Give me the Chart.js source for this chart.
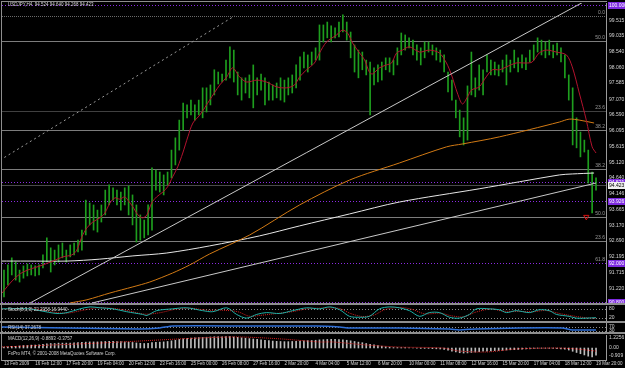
<!DOCTYPE html>
<html>
<head>
<meta charset="utf-8">
<script src="https://cdn.jsdelivr.net/npm/chart.js@4.4.1/dist/chart.umd.min.js"></script>
<style>
  html, body { margin: 0; padding: 0; background: #000; }
  #wrap { position: relative; width: 625px; height: 368px; overflow: hidden; background: #000; }
  #wrap canvas { position: absolute; left: 0; }
  .sep { position: absolute; left: 0; width: 625px; height: 2px; background: #8e8e8e; }
  .edge { position: absolute; background: #8e8e8e; }
</style>
</head>
<body>
<div id="wrap">
  <canvas id="priceChart" width="625" height="303" style="top:0"></canvas>
  <div class="sep" style="top:303px"></div>
  <canvas id="stochChart" width="625" height="16" style="top:305px"></canvas>
  <div class="sep" style="top:321px"></div>
  <canvas id="rsiChart" width="625" height="9" style="top:323px"></canvas>
  <div class="sep" style="top:332px"></div>
  <canvas id="macdChart" width="625" height="34" style="top:334px"></canvas>
  <div class="edge" style="top:1px;left:1px;width:606px;height:1px"></div>
  <div class="edge" style="top:1px;left:1px;width:1px;height:360px"></div>
</div>
<script>
// USDJPY H4 bars, 13 Feb - 19 Mar 2009 (bar index 0..152)
const priceHigh = [
  91.78, 91.94, 92.16, 92.03, 91.78, 91.91, 91.97, 91.94, 91.91, 91.94,
  92.25, 92.78, 92.47, 92.40, 92.56, 92.62, 92.40, 92.56, 92.62, 92.71,
  93.02, 93.95, 93.86, 93.80, 93.64, 93.80, 94.26, 94.42, 94.33, 94.26,
  94.20, 94.33, 94.39, 94.11, 93.80, 93.49, 93.33, 93.80, 94.95, 94.88,
  94.82, 94.73, 94.82, 95.50, 95.88, 96.43, 96.96, 96.90, 97.05, 96.90,
  97.05, 97.43, 97.43, 97.52, 97.99, 97.92, 97.86, 98.29, 98.70, 98.60,
  97.92, 97.74, 97.74, 97.83, 98.14, 97.74, 97.86, 97.74, 97.61, 97.52,
  97.58, 97.74, 97.67, 97.74, 97.83, 98.14, 98.39, 98.54, 98.45, 98.54,
  98.67, 99.38, 99.38, 99.47, 99.35, 99.29, 99.47, 99.69, 99.47, 99.16,
  98.76, 98.60, 98.54, 98.29, 98.23, 98.05, 98.14, 98.23, 98.36, 98.36,
  98.29, 98.67, 99.13, 99.07, 98.98, 98.91, 98.76, 98.67, 98.85, 98.85,
  98.76, 98.67, 98.60, 98.45, 97.92, 97.67, 97.05, 96.74, 96.50, 97.49,
  98.54, 97.74, 98.14, 97.99, 98.45, 98.29, 98.23, 98.14, 98.29, 98.45,
  98.29, 98.60, 98.36, 98.45, 98.36, 98.60, 98.76, 98.98, 98.91, 98.85,
  98.91, 98.76, 98.82, 98.67, 98.45, 97.83, 97.43, 96.50, 96.06, 95.81,
  95.50, 94.82, 94.64
];
const priceLow = [
  90.95, 91.32, 91.63, 91.47, 91.41, 91.53, 91.60, 91.63, 91.60, 91.63,
  91.85, 92.03, 91.72, 91.94, 92.03, 92.16, 92.03, 92.19, 92.25, 92.34,
  92.40, 92.87, 93.18, 93.02, 92.96, 93.27, 93.49, 93.80, 93.95, 93.80,
  93.64, 93.80, 93.49, 93.18, 92.65, 92.71, 92.78, 92.87, 93.02, 94.26,
  94.20, 94.11, 94.42, 94.64, 95.04, 95.50, 96.12, 96.50, 96.59, 96.43,
  96.59, 96.50, 96.68, 96.90, 97.21, 97.55, 97.61, 97.67, 97.74, 97.61,
  97.21, 97.05, 97.27, 97.12, 96.81, 97.21, 97.36, 96.90, 97.05, 97.05,
  97.12, 97.05, 96.99, 97.21, 97.27, 97.43, 97.67, 98.05, 97.92, 98.14,
  98.29, 98.29, 98.85, 98.98, 98.85, 98.98, 99.01, 99.16, 98.91, 98.36,
  97.92, 97.74, 97.99, 97.83, 96.59, 97.52, 97.61, 97.67, 97.99, 97.92,
  97.83, 98.14, 98.45, 98.60, 98.67, 98.45, 98.29, 98.14, 98.36, 98.54,
  98.45, 98.29, 98.23, 97.92, 97.30, 97.05, 96.50, 95.91, 95.66, 95.81,
  97.21, 97.15, 97.36, 97.21, 97.92, 97.83, 97.83, 97.80, 97.92, 97.52,
  97.92, 98.05, 97.92, 98.05, 97.99, 98.23, 98.29, 98.54, 98.45, 98.36,
  98.45, 98.36, 98.45, 98.23, 97.74, 97.05, 95.66, 95.57, 95.29, 95.44,
  94.48, 93.55, 94.26
];

// fast moving average (red)
const fastIdx = [-0.5, 2.3, 4.9, 10, 12.6, 15.1, 17.4, 18.7, 20, 21.3, 22.8, 24.6, 25.9, 27.2, 28.5, 29.7, 31, 31.8, 33.1, 34.4,
  35.6, 36.7, 37.9, 39.2, 40.8, 42, 43.3, 44.6, 45.9, 47.2, 48.5, 50.3, 52.8, 55.4, 57.2, 58.7, 60.5, 62.3, 64.9, 67.4,
  70, 72.6, 74.6, 75.9, 77.7, 79.7, 81, 82.8, 85.4, 86.9, 88.2, 89.5, 91.3, 92.6, 93.8, 94.6, 96.4, 98.2, 99.5, 100.8,
  102.3, 104.1, 106.7, 109.2, 111.8, 113.6, 114.9, 116.4, 117.7, 119, 120, 122, 123.8, 125.4, 127.2, 129, 131.5, 134.1, 135.6, 137.4,
  139.2, 141.8, 144.4, 145.9, 147.7, 149.5, 151, 152];
const fastVal = [91.07, 91.47, 91.72, 91.94, 92.06, 92.19, 92.25, 92.40, 92.81, 93.09, 93.27, 93.40, 93.55, 93.86, 94.02, 93.98, 94.05, 93.95, 93.74, 93.49,
  93.40, 93.49, 93.86, 94.05, 94.20, 94.36, 94.67, 94.98, 95.41, 95.91, 96.34, 96.59, 97.05, 97.52, 97.77, 98.05, 97.77, 97.61, 97.67, 97.61,
  97.46, 97.43, 97.52, 97.77, 97.99, 98.20, 98.51, 98.85, 99.07, 99.22, 99.13, 98.82, 98.51, 98.29, 97.92, 97.86, 98.05, 98.14, 98.20, 98.51,
  98.60, 98.70, 98.54, 98.60, 98.51, 98.20, 97.83, 97.27, 96.93, 97.15, 97.36, 97.46, 97.77, 97.99, 97.99, 98.08, 98.20, 98.20, 98.23, 98.51,
  98.60, 98.54, 98.45, 98.08, 97.27, 96.43, 95.60, 95.41];

// slow moving average (orange)
const slowIdx = [16.9, 21.3, 27.2, 33.1, 37.4, 43.3, 47.7, 52.8, 63.1, 75.9, 88.7, 101.5, 113.6, 117.7, 127.2, 142.6, 145.1, 147.7, 151.5];
const slowVal = [90.76, 90.86, 91.07, 91.26, 91.41, 91.69, 91.94, 92.28, 92.87, 93.80, 94.57, 95.10, 95.60, 95.69, 95.91, 96.37, 96.46, 96.43, 96.34];

// long moving average (white)
const longIdx = [-1, 5.9, 16.2, 24.6, 33.1, 41.8, 52.8, 65.6, 75.9, 88.7, 101.5, 122, 142.6, 145.9, 151.5];
const longVal = [92.06, 92.06, 92.06, 92.12, 92.22, 92.31, 92.53, 92.84, 93.15, 93.52, 93.89, 94.30, 94.73, 94.76, 94.79];

// trend lines (start/end bar, start/end price)
const trendUpperIdx = [6.7, 149.2];
const trendUpperVal = [90.76, 100.12];
const trendLowerIdx = [22.6, 152];
const trendLowerVal = [90.76, 94.48];
const channelIdx = [-1, 59.2];
const channelVal = [95.19, 99.66];

const fibValues = [99.66, 98.88, 96.71, 96.12, 94.91, 93.43, 92.68, 92.00];
const fibNames = ['0.0', '50.0', '23.6', '38.2', '38.2', '50.0', '23.6', '61.8'];
const alertLevels = [100.000, 94.521, 93.926, 92.000, 90.800];
const lastPrice = 94.423;
const arrowIdx = [149.5];
const arrowVal = [93.43];

const priceTicks = [99.515, 99.035, 98.540, 98.060, 97.585, 97.070, 96.590, 96.095, 95.615, 95.120,
  94.640, 94.146, 93.665, 93.170, 92.690, 92.195, 91.715, 91.220];

const timeLabels = ['13 Feb 2009', '16 Feb 12:00', '17 Feb 20:00', '19 Feb 04:00', '20 Feb 12:00', '23 Feb 16:00',
  '25 Feb 00:00', '26 Feb 08:00', '27 Feb 16:00', '2 Mar 20:00', '4 Mar 04:00', '5 Mar 12:00', '6 Mar 20:00',
  '10 Mar 00:00', '11 Mar 08:00', '12 Mar 16:00', '15 Mar 20:00', '17 Mar 04:00', '18 Mar 12:00', '19 Mar 20:00'];

// Stochastic(8,3,3)
const stochIdx = [-1, 6.7, 9.2, 13.6, 16.2, 19.5, 22.1, 24.6, 28, 31.5, 35.6, 36.7, 39.2, 43.3, 46.9, 51, 53.6, 57.2, 59.7, 62.3,
  64.9, 67.4, 70.8, 74.1, 77.7, 81, 83.6, 86.2, 88.7, 91.3, 93.8, 96.4, 99, 101.5, 104.1, 106.7, 109.2, 111.8, 114.4, 116.9,
  119.5, 121.3, 124.6, 127.2, 129, 131.5, 134.9, 137.4, 140, 141.8, 145.1, 146.9, 149.5, 152];
const stochMain = [81, 81, 69, 50, 56, 81, 94, 88, 81, 62, 44, 37, 69, 81, 88, 69, 62, 88, 44, 19,
  44, 56, 50, 69, 88, 81, 94, 75, 31, 25, 31, 81, 94, 88, 69, 31, 56, 56, 25, 19,
  44, 81, 81, 75, 56, 69, 56, 75, 69, 44, 31, 19, 19, 22];
const stochSigIdx = [-1, 8, 12, 16, 20, 24, 28, 32, 36, 40, 44, 48, 52, 56, 60, 63, 66, 70, 74, 78,
  82, 86, 89, 92, 95, 98, 102, 105, 108, 112, 115, 118, 121, 125, 128, 132, 136, 139, 143, 147, 150, 152];
const stochSignal = [80, 80, 62, 52, 70, 88, 84, 68, 46, 55, 78, 85, 72, 72, 62, 32, 38, 50, 62, 82,
  86, 84, 50, 30, 40, 78, 90, 76, 48, 52, 34, 28, 58, 80, 66, 64, 62, 70, 48, 30, 20, 17];

// RSI(14)
const rsiIdx = [-1, 16.2, 34.9, 40, 43.3, 63, 80.3, 86.2, 88.7, 101.5, 114.4, 116.9, 121.2, 132.3, 143.3, 145.9, 152];
const rsiVal = [70, 59, 48, 59, 81, 81, 81, 70, 59, 59, 48, 38, 48, 59, 59, 38, 37];

// MACD(12,26,9) histogram per bar and signal line
const macdHist = [
  0.10, 0.15, 0.20, 0.20, 0.25, 0.30, 0.30, 0.35, 0.35, 0.40,
  0.45, 0.50, 0.55, 0.55, 0.60, 0.60, 0.60, 0.60, 0.62, 0.65,
  0.70, 0.72, 0.75, 0.75, 0.75, 0.78, 0.80, 0.82, 0.82, 0.80,
  0.78, 0.75, 0.72, 0.68, 0.62, 0.58, 0.55, 0.58, 0.65, 0.70,
  0.72, 0.75, 0.80, 0.88, 0.95, 1.05, 1.12, 1.18, 1.22, 1.25,
  1.28, 1.30, 1.32, 1.35, 1.38, 1.38, 1.38, 1.40, 1.40, 1.35,
  1.30, 1.25, 1.20, 1.15, 1.10, 1.05, 1.00, 0.95, 0.90, 0.85,
  0.82, 0.80, 0.78, 0.78, 0.80, 0.82, 0.85, 0.88, 0.90, 0.92,
  0.95, 1.00, 1.02, 1.05, 1.05, 1.05, 1.02, 1.00, 0.95, 0.88,
  0.80, 0.72, 0.65, 0.55, 0.45, 0.38, 0.30, 0.22, 0.15, 0.10,
  0.05, 0.05, 0.05, 0.05, 0.02, 0.00, -0.02, -0.05, -0.05, -0.05,
  -0.08, -0.10, -0.12, -0.18, -0.28, -0.38, -0.48, -0.58, -0.62, -0.60,
  -0.55, -0.50, -0.45, -0.40, -0.38, -0.35, -0.32, -0.30, -0.28, -0.25,
  -0.22, -0.20, -0.18, -0.15, -0.12, -0.10, -0.08, -0.05, -0.05, -0.05,
  -0.05, -0.05, -0.08, -0.10, -0.15, -0.25, -0.40, -0.55, -0.70, -0.85,
  -1.00, -1.10, -0.89
];
const macdSigIdx = [-1, 24.6, 50.3, 60.5, 71.5, 81, 84.4, 93, 101.5, 112.6, 116.9, 123.8, 131.5, 141.8, 146.9, 152];
const macdSignal = [0.12, 0.61, 1.23, 1.35, 1.10, 0.74, 0.74, 0.37, 0.12, 0.00, -0.37, -0.49, -0.12, 0.00, -0.12, -0.38];

const FONT = 'Liberation Sans';
const X_MIN = -0.51;
const X_MAX = 154.56;
const AXIS_W = 19;
const TEXT = '#d4d4d4';
const PURPLE = '#8a2be2';

const pts = (xs, ys) => xs.map((x, i) => ({ x, y: ys[i] }));

function hiddenX() {
  return { type: 'linear', min: X_MIN, max: X_MAX, offset: false, display: false };
}

function rightAxis(min, max, values, fmt) {
  return {
    position: 'right', min, max,
    afterBuildTicks: (ax) => { ax.ticks = values.map((v) => ({ value: v })); },
    afterFit: (ax) => { ax.width = AXIS_W; ax.paddingTop = 0; ax.paddingBottom = 0; },
    ticks: { color: TEXT, font: { family: FONT, size: 5 }, padding: 3, autoSkip: false, callback: fmt },
    grid: { display: false, drawTicks: false },
    border: { display: true, color: '#9a9a9a' },
  };
}

// draws horizontal levels, their tags, axis boxes and panel captions through the y scale
const levelsPlugin = {
  id: 'mtLevels',
  beforeDatasetsDraw(chart, args, o) {
    const { ctx, chartArea: a } = chart;
    const y = chart.scales.y;
    ctx.save();
    ctx.beginPath();
    ctx.rect(a.left, a.top, a.right - a.left, a.bottom - a.top);
    ctx.clip();
    (o.lines || []).forEach((l) => {
      const py = Math.round(y.getPixelForValue(l.value)) + 0.5;
      ctx.strokeStyle = l.color;
      ctx.lineWidth = 1;
      ctx.setLineDash(l.dash || []);
      ctx.beginPath();
      ctx.moveTo(a.left, py);
      ctx.lineTo(a.right, py);
      ctx.stroke();
    });
    ctx.setLineDash([]);
    ctx.font = `5px "${FONT}"`;
    ctx.textAlign = 'right';
    ctx.textBaseline = 'bottom';
    (o.tags || []).forEach((t) => {
      ctx.fillStyle = '#9a9a9a';
      ctx.fillText(t.text, a.right - 1, y.getPixelForValue(t.value) - 1);
    });
    ctx.restore();
  },
  afterDraw(chart, args, o) {
    const { ctx, chartArea: a } = chart;
    const y = chart.scales.y;
    ctx.save();
    ctx.font = `5px "${FONT}"`;
    ctx.textAlign = 'left';
    ctx.textBaseline = 'middle';
    (o.boxes || []).forEach((b) => {
      const py = y.getPixelForValue(b.value);
      ctx.fillStyle = b.fill;
      ctx.fillRect(a.right + 2, Math.round(py) - 3, 18, 7);
      ctx.fillStyle = b.color;
      ctx.fillText(b.text, a.right + 3, py + 0.5);
    });
    ctx.font = `4.5px "${FONT}"`;
    (o.captions || []).forEach((c) => {
      ctx.fillStyle = c.color || TEXT;
      ctx.fillText(c.text, c.x, c.y);
    });
    ctx.restore();
  },
};

const common = {
  responsive: false,
  animation: false,
  events: [],
  plugins: { legend: { display: false }, tooltip: { enabled: false } },
};

function lineSet(data, color, extra) {
  return Object.assign({ type: 'line', data, borderColor: color, borderWidth: 1, pointRadius: 0, tension: 0.3, fill: false }, extra || {});
}

function panelLayout(top) {
  return { autoPadding: false, padding: { top, left: 2, right: 0, bottom: 0 } };
}

// price panel
new Chart(document.getElementById('priceChart'), {
  type: 'bar',
  data: {
    datasets: [
      { type: 'bar', data: priceHigh.map((h, i) => ({ x: i, y: [priceLow[i], h] })), backgroundColor: '#1e9e1e', barThickness: 1, order: 10 },
      lineSet(pts(longIdx, longVal), '#e6e6e6', { order: 6 }),
      lineSet(pts(slowIdx, slowVal), '#d27a14', { order: 5 }),
      lineSet(pts(fastIdx, fastVal), '#b3122e', { order: 4 }),
      lineSet(pts(trendUpperIdx, trendUpperVal), '#c8c8c8', { tension: 0, order: 3 }),
      lineSet(pts(trendLowerIdx, trendLowerVal), '#c8c8c8', { tension: 0, order: 3 }),
      lineSet(pts(channelIdx, channelVal), '#9a9a9a', { tension: 0, borderDash: [2, 3], order: 3 }),
      { type: 'line', data: pts(arrowIdx, arrowVal), showLine: false, pointStyle: 'triangle', rotation: 180,
        pointRadius: 3, borderColor: '#d81010', backgroundColor: 'rgba(0,0,0,0)', borderWidth: 1, order: 1 },
    ],
  },
  options: Object.assign({}, common, {
    layout: panelLayout(3),
    scales: {
      x: hiddenX(),
      y: rightAxis(90.76, 100.06, priceTicks, (v) => Number(v).toFixed(3)),
    },
    plugins: Object.assign({}, common.plugins, {
      mtLevels: {
        lines: [
          { value: fibValues[0], color: '#6a6a6a', dash: [1, 1] },
          { value: fibValues[1], color: '#7c7c7c' },
          { value: fibValues[2], color: '#404040' },
          { value: fibValues[3], color: '#7c7c7c' },
          { value: fibValues[4], color: '#7c7c7c' },
          { value: fibValues[5], color: '#7c7c7c' },
          { value: fibValues[6], color: '#7c7c7c' },
          { value: lastPrice, color: '#4a4a4a' },
        ].concat(alertLevels.map((v) => ({ value: v, color: PURPLE, dash: [1, 2] }))),
        tags: fibValues.map((v, i) => ({ value: v, text: fibNames[i] })),
        boxes: alertLevels.map((v) => ({ value: v, text: v.toFixed(3), fill: '#7d2ae0', color: '#ffffff' }))
          .concat([{ value: lastPrice, text: lastPrice.toFixed(3), fill: '#f0f0f0', color: '#000000' }]),
        captions: [{ text: 'USDJPY,H4  94.524 94.640 94.268 94.423', x: 8, y: 5 }],
      },
    }),
  }),
  plugins: [levelsPlugin],
});

// stochastic panel
new Chart(document.getElementById('stochChart'), {
  type: 'line',
  data: {
    datasets: [
      lineSet(pts(stochSigIdx, stochSignal), '#d42020', { borderDash: [1, 1], order: 2 }),
      lineSet(pts(stochIdx, stochMain), '#1fb0a6', { order: 1 }),
    ],
  },
  options: Object.assign({}, common, {
    layout: panelLayout(1),
    scales: { x: hiddenX(), y: rightAxis(0, 100, [80, 20], (v) => String(v)) },
    plugins: Object.assign({}, common.plugins, {
      mtLevels: {
        lines: [{ value: 80, color: '#8a8a8a', dash: [1, 2] }, { value: 20, color: '#8a8a8a', dash: [1, 2] }],
        captions: [{ text: 'Stoch(8,3,3) 22.2958 16.9440', x: 8, y: 5 }],
      },
    }),
  }),
  plugins: [levelsPlugin],
});

// RSI panel
new Chart(document.getElementById('rsiChart'), {
  type: 'line',
  data: { datasets: [lineSet(pts(rsiIdx, rsiVal), '#2f6fd6', { borderWidth: 1.5, tension: 0.2 })] },
  options: Object.assign({}, common, {
    layout: panelLayout(0),
    scales: { x: hiddenX(), y: rightAxis(15, 113, [70, 30], (v) => String(v)) },
    plugins: Object.assign({}, common.plugins, {
      mtLevels: {
        lines: [{ value: 70, color: '#8a8a8a', dash: [1, 2] }, { value: 30, color: '#8a8a8a', dash: [1, 2] }],
        captions: [{ text: 'RSI(14) 37.2678', x: 8, y: 4.5 }],
      },
    }),
  }),
  plugins: [levelsPlugin],
});

// MACD panel with the time axis
new Chart(document.getElementById('macdChart'), {
  type: 'bar',
  data: {
    datasets: [
      { type: 'bar', data: macdHist.map((v, i) => ({ x: i, y: v })), backgroundColor: '#bcbcbc', barThickness: 1, order: 2 },
      lineSet(pts(macdSigIdx, macdSignal), '#d42020', { borderDash: [1, 1], order: 1 }),
    ],
  },
  options: Object.assign({}, common, {
    layout: panelLayout(1),
    scales: {
      x: {
        type: 'linear', min: X_MIN, max: X_MAX, offset: false, position: 'bottom',
        afterBuildTicks: (ax) => { ax.ticks = timeLabels.map((_, k) => ({ value: k * 8 })); },
        afterFit: (ax) => { ax.height = 8; ax.paddingLeft = 0; ax.paddingRight = 0; },
        ticks: { color: TEXT, font: { family: FONT, size: 4.5 }, padding: 1, autoSkip: false, maxRotation: 0, minRotation: 0,
          align: 'start', callback: (v, i) => timeLabels[i] },
        grid: { display: false, drawTicks: false, offset: false },
        border: { display: true, color: '#9a9a9a' },
      },
      y: rightAxis(-1.47, 1.593, [1.2256, 0, -0.909], (v) => (v === 0 ? '0.00' : String(v))),
    },
    plugins: Object.assign({}, common.plugins, {
      mtLevels: {
        captions: [
          { text: 'MACD(12,26,9) -0.8893 -0.3757', x: 8, y: 5 },
          { text: 'FxPro MT4, \u00a9 2001-2008 MetaQuotes Software Corp.', x: 8, y: 20 },
        ],
      },
    }),
  }),
  plugins: [levelsPlugin],
});
</script>
</body>
</html>
